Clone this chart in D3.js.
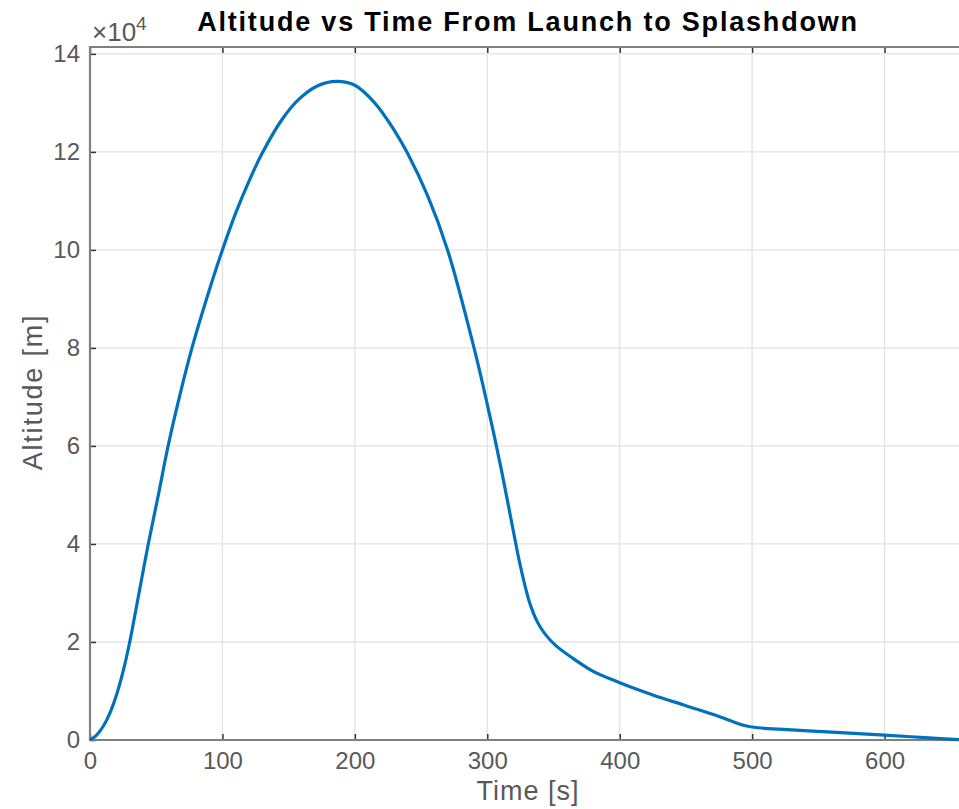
<!DOCTYPE html>
<html>
<head>
<meta charset="utf-8">
<script src="https://cdn.jsdelivr.net/npm/d3@7"></script>
<style>
  body { margin: 0; background: #fff; }
  svg { display: block; font-family: "Liberation Sans", Arial, sans-serif; }
</style>
</head>
<body>
<svg id="chart" width="959" height="809"></svg>
<script>
// time [s] and altitude [m]
var time = [0, 5, 10, 15, 20, 25, 30, 36, 44, 52, 59, 68, 77, 88, 100, 110, 120, 130, 145, 158, 172, 186,
  200, 215, 230, 240, 255, 270, 290, 300, 310, 318, 325, 332, 338, 344, 352, 365, 380, 400, 425, 450, 475, 495,
  505, 520, 560, 600, 630, 660];
var altitude = [0, 1000, 2800, 5500, 9200, 14000, 20000, 28500, 40000, 50500, 60000, 70500, 80000, 90000, 100000, 107500, 114000, 119700, 126600, 130800, 133500, 134400,
  133600, 130000, 124300, 119600, 111000, 100000, 80000, 68500, 56000, 45000, 35500, 28000, 24000, 21500, 19200, 16600, 14000, 11700, 9200, 7000, 4800, 2900,
  2500, 2200, 1600, 1000, 500, 0];

var xTicks = [0, 100, 200, 300, 400, 500, 600];
var yTicks = [0, 20000, 40000, 60000, 80000, 100000, 120000, 140000];

var svg = d3.select('#chart')
  , plotLeft = 90
  , plotRight = 964
  , plotTop = 47
  , plotBottom = 740;

var x = d3.scaleLinear().domain([0, 660]).range([plotLeft, plotRight]);
var y = d3.scaleLinear().domain([0, 141400]).range([plotBottom, plotTop]);

// grid
svg.append('g').selectAll('line')
  .data(xTicks.slice(1))
  .join('line')
  .attr('x1', d => x(d)).attr('x2', d => x(d))
  .attr('y1', plotTop).attr('y2', plotBottom)
  .attr('stroke', '#e3e3e3').attr('stroke-width', 1.3);

svg.append('g').selectAll('line')
  .data(yTicks.slice(1))
  .join('line')
  .attr('x1', plotLeft).attr('x2', plotRight)
  .attr('y1', d => y(d)).attr('y2', d => y(d))
  .attr('stroke', '#e3e3e3').attr('stroke-width', 1.3);

// axes (ticks inside the box, MATLAB style)
var xAxis = d3.axisBottom(x).tickValues(xTicks).tickSize(-6).tickPadding(12).tickFormat(d3.format('d'));
var yAxis = d3.axisLeft(y).tickValues(yTicks).tickSize(-6).tickPadding(10).tickFormat(d => d / 10000);

function styleAxis(g) {
  g.select('.domain').remove();
  g.selectAll('.tick line').attr('stroke', '#333').attr('stroke-width', 1.5);
  g.selectAll('.tick text').attr('fill', '#595959').style('font-size', '24px');
}

svg.append('g').attr('transform', 'translate(0,' + plotBottom + ')').call(xAxis).call(styleAxis);
svg.append('g').attr('transform', 'translate(' + plotLeft + ',0)').call(yAxis).call(styleAxis);
svg.append('g').attr('transform', 'translate(0,' + plotTop + ')')
  .call(d3.axisTop(x).tickValues(xTicks).tickSize(-6).tickFormat(''))
  .call(styleAxis);

// box
svg.append('path')
  .attr('d', 'M' + plotRight + ',' + plotTop + 'H' + plotLeft + 'V' + plotBottom + 'H' + plotRight)
  .attr('fill', 'none').attr('stroke', '#808080').attr('stroke-width', 2.2);

// curve
var line = d3.line()
  .x((d, i) => x(time[i]))
  .y(d => y(d))
  .curve(d3.curveCatmullRom.alpha(0.5));

svg.append('path')
  .datum(altitude)
  .attr('d', line)
  .attr('fill', 'none')
  .attr('stroke', '#0072BD')
  .attr('stroke-width', 3.2)
  .attr('stroke-linejoin', 'round');

// exponent label
var ex = svg.append('text').attr('x', 92).attr('y', 41).attr('fill', '#595959').style('font-size', '26px');
ex.append('tspan').text('\u00d710');
ex.append('tspan').attr('dy', -11).style('font-size', '19px').text('4');

// titles
svg.append('text')
  .attr('x', 528).attr('y', 31)
  .attr('text-anchor', 'middle')
  .style('font-size', '27px').style('font-weight', 'bold')
  .style('letter-spacing', '1.8px')
  .attr('fill', '#000')
  .text('Altitude vs Time From Launch to Splashdown');

svg.append('text')
  .attr('x', 528).attr('y', 800)
  .attr('text-anchor', 'middle')
  .style('font-size', '27px').style('letter-spacing', '1px').attr('fill', '#595959')
  .text('Time [s]');

svg.append('text')
  .attr('transform', 'translate(42,392) rotate(-90)')
  .attr('text-anchor', 'middle')
  .style('font-size', '27px').style('letter-spacing', '1.8px').attr('fill', '#595959')
  .text('Altitude [m]');
</script>
</body>
</html>
